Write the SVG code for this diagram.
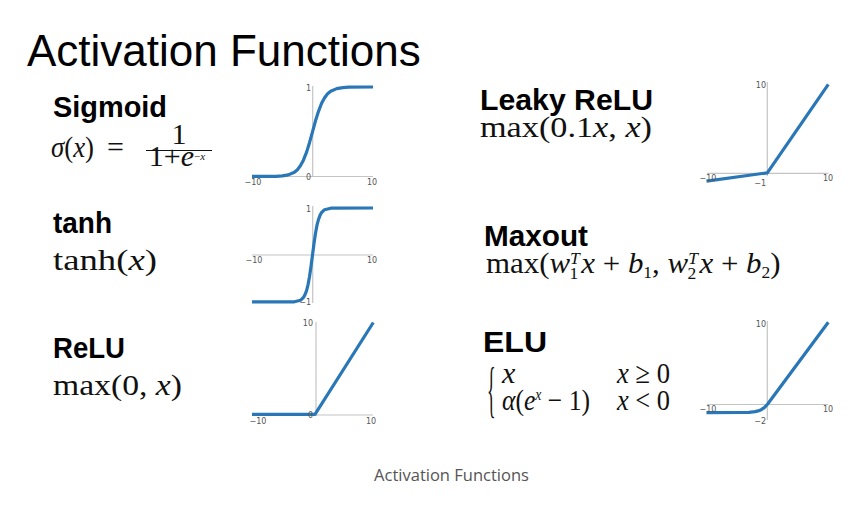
<svg xmlns="http://www.w3.org/2000/svg" width="867" height="506" viewBox="0 0 867 506">
<style>
.title{font-family:"Liberation Sans",Arial,sans-serif;font-size:44px;fill:#000}
.name{font-family:"Liberation Sans",Arial,sans-serif;font-weight:bold;font-size:29px;fill:#000}
.m{font-family:"Liberation Serif","DejaVu Serif",serif;font-size:30px;fill:#111}
.i{font-style:italic}
.ax{stroke:#c4c4c4;stroke-width:1.2;fill:none}
.cv{stroke:#2a77b7;stroke-width:3.2;fill:none;stroke-linejoin:round;stroke-linecap:butt}
.tk{font-family:"DejaVu Sans","Liberation Sans",sans-serif;font-size:8px;fill:#555}
.cap{font-family:"Open Sans","Noto Sans",sans-serif;font-size:16.5px;fill:#555}
</style>
<rect width="867" height="506" fill="#fff"/>
<text class="title" x="27" y="66">Activation Functions</text>

<g id="sigmoid">
<text class="name" x="53" y="117" textLength="114" lengthAdjust="spacingAndGlyphs">Sigmoid</text>
<text class="m" x="51" y="157" textLength="43" lengthAdjust="spacingAndGlyphs"><tspan class="i">σ</tspan>(<tspan class="i">x</tspan>)</text>
<text class="m" x="107" y="157">=</text>
<text class="m" x="179" y="144" font-size="16" text-anchor="middle">1</text>
<line x1="146" y1="150.5" x2="212" y2="150.5" stroke="#111" stroke-width="1"/>
<text class="m" x="177" y="166" font-size="16" text-anchor="middle">1+<tspan class="i">e</tspan><tspan font-size="11" dy="-6">−<tspan class="i">x</tspan></tspan></text>
<g id="sigmoid-plot">
<line class="ax" x1="252" y1="176.5" x2="373" y2="176.5"/>
<line class="ax" x1="312.7" y1="86" x2="312.7" y2="177"/>
<polyline class="cv" points="252,176.4 276.2,176.3 282.3,175.9 288.3,174.9 294.4,172.3 297.4,169.7 300.4,165.8 303.4,160.2 306.5,152.4 309.5,142.7 312.5,131.8 315.5,120.8 318.6,111.1 321.6,103.3 324.6,97.7 327.6,93.7 330.7,91.2 336.7,88.6 342.8,87.6 348.8,87.2 373,87"/>
<text class="tk" x="311" y="91" text-anchor="end">1</text>
<text class="tk" x="311" y="180" text-anchor="end">0</text>
<text class="tk" x="253" y="185" text-anchor="middle">−10</text>
<text class="tk" x="372" y="185" text-anchor="middle">10</text>
</g>
</g>

<g id="tanh">
<text class="name" x="53" y="233" textLength="59" lengthAdjust="spacingAndGlyphs">tanh</text>
<text class="m" x="53" y="270" font-size="31" textLength="104" lengthAdjust="spacingAndGlyphs">tanh(<tspan class="i">x</tspan>)</text>
<g id="tanh-plot">
<line class="ax" x1="252" y1="255" x2="373" y2="255"/>
<line class="ax" x1="312.7" y1="206" x2="312.7" y2="303"/>
<polyline class="cv" points="252,301.9 294.4,301.8 300.4,300.3 303.4,297.5 304.9,294.9 306.5,290.8 308,284.9 309.5,276.7 311,266.5 312.5,255 314,243.5 315.5,233.3 317,225.1 318.6,219.2 320.1,215.1 321.6,212.5 324.6,209.7 330.7,208.2 373,208"/>
<text class="tk" x="311" y="212" text-anchor="end">1</text>
<text class="tk" x="311" y="305" text-anchor="end">−1</text>
<text class="tk" x="254" y="263" text-anchor="middle">−10</text>
<text class="tk" x="372" y="263" text-anchor="middle">10</text>
</g>
</g>

<g id="relu">
<text class="name" x="53" y="358" textLength="72" lengthAdjust="spacingAndGlyphs">ReLU</text>
<text class="m" x="53" y="395" font-size="31" textLength="129" lengthAdjust="spacingAndGlyphs">max(0, <tspan class="i">x</tspan>)</text>
<g id="relu-plot">
<line class="ax" x1="252" y1="415" x2="373" y2="415"/>
<line class="ax" x1="316" y1="322" x2="316" y2="416"/>
<polyline class="cv" points="252,414.3 315,414.3 373.3,322.5"/>
<text class="tk" x="313" y="326" text-anchor="end">10</text>
<text class="tk" x="313" y="418" text-anchor="end">0</text>
<text class="tk" x="258" y="424" text-anchor="middle">−10</text>
<text class="tk" x="371" y="424" text-anchor="middle">10</text>
</g>
</g>

<g id="leaky-relu">
<text class="name" x="480" y="110" textLength="173" lengthAdjust="spacingAndGlyphs">Leaky ReLU</text>
<text class="m" x="480" y="137" textLength="172" lengthAdjust="spacingAndGlyphs">max(0.1<tspan class="i">x</tspan>, <tspan class="i">x</tspan>)</text>
<g id="leaky-plot">
<line class="ax" x1="707" y1="173.3" x2="828.3" y2="173.3"/>
<line class="ax" x1="767.3" y1="82" x2="767.3" y2="176"/>
<polyline class="cv" points="706.5,181.2 767.3,172.8 828.3,84.3"/>
<text class="tk" x="766" y="88" text-anchor="end">10</text>
<text class="tk" x="766" y="186" text-anchor="end">−1</text>
<text class="tk" x="708" y="181" text-anchor="middle">−10</text>
<text class="tk" x="828" y="181" text-anchor="middle">10</text>
</g>
</g>

<g id="maxout">
<text class="name" x="484" y="246" textLength="104" lengthAdjust="spacingAndGlyphs">Maxout</text>
<g transform="translate(486,273) scale(1.03,1)">
<text class="m" x="0" y="0" font-size="29">max(<tspan class="i">w</tspan><tspan font-size="17" dy="-9" class="i">T</tspan><tspan font-size="17" dx="-10" dy="15">1</tspan><tspan dy="-6" dx="3"><tspan class="i">x</tspan> + <tspan class="i">b</tspan></tspan><tspan font-size="17" dy="5">1</tspan><tspan dy="-5">, <tspan class="i">w</tspan></tspan><tspan font-size="17" dy="-9" class="i">T</tspan><tspan font-size="17" dx="-10" dy="15">2</tspan><tspan dy="-6" dx="3"><tspan class="i">x</tspan> + <tspan class="i">b</tspan></tspan><tspan font-size="17" dy="5">2</tspan><tspan dy="-5">)</tspan></text>
</g>
</g>

<g id="elu">
<text class="name" x="483" y="352" textLength="64" lengthAdjust="spacingAndGlyphs">ELU</text>
<text class="m" transform="translate(487,410) scale(0.6,2.05)" font-size="44">{</text>
<text class="m" x="502" y="383" font-size="26"><tspan class="i">x</tspan></text>
<text class="m" x="502" y="410" font-size="26" textLength="88" lengthAdjust="spacingAndGlyphs"><tspan class="i">α</tspan>(<tspan class="i">e</tspan><tspan font-size="16" dy="-10" class="i">x</tspan><tspan dy="10"> − 1)</tspan></text>
<text class="m" x="617" y="383" font-size="26" textLength="53" lengthAdjust="spacingAndGlyphs"><tspan class="i">x</tspan> ≥ 0</text>
<text class="m" x="617" y="410" font-size="26" textLength="53" lengthAdjust="spacingAndGlyphs"><tspan class="i">x</tspan> &lt; 0</text>
<g id="elu-plot">
<line class="ax" x1="707" y1="404.5" x2="828.3" y2="404.5"/>
<line class="ax" x1="767.3" y1="321" x2="767.3" y2="420"/>
<polyline class="cv" points="706.5,412.6 742.9,412.5 749,412.3 755.1,411.6 758.2,410.9 761.2,409.7 764.3,407.7 767.3,404.5 828.3,322.3"/>
<text class="tk" x="766" y="327" text-anchor="end">10</text>
<text class="tk" x="766" y="424" text-anchor="end">−2</text>
<text class="tk" x="708" y="412" text-anchor="middle">−10</text>
<text class="tk" x="828" y="412" text-anchor="middle">10</text>
</g>
</g>

<text class="cap" x="451.5" y="481" text-anchor="middle">Activation Functions</text>
</svg>
